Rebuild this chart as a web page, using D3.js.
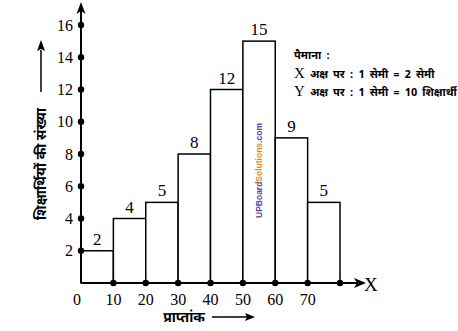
<!DOCTYPE html>
<html><head><meta charset="utf-8">
<script src="https://cdn.jsdelivr.net/npm/d3@7"></script>
<style>
html,body{margin:0;padding:0;background:#fff;}
svg{display:block;}
</style></head>
<body>
<script>
const binStarts = [0,10,20,30,40,50,60,70];
const binWidth = 10;
const counts = [2,4,5,8,12,15,9,5];
const xTickLabels = [0,10,20,30,40,50,60,70];
const xDotTicks = [10,20,30,40,50,60,70,80];
const yTicks = [2,4,6,8,10,12,14,16];
const yTitle = "शिक्षार्थियों की संख्या";
const xTitle = "प्राप्तांक";
const scaleLines = ["पैमाना :", "X अक्ष पर : 1 सेमी = 2 सेमी", "Y अक्ष पर : 1 सेमी = 10 शिक्षार्थी"];

const W=458,H=331;
const svg=d3.select("body").append("svg").attr("width",W).attr("height",H);
const x=d3.scaleLinear().domain([0,80]).range([81,340]);
const y=d3.scaleLinear().domain([0,16]).range([283,25]);
const serif="'Liberation Serif','Times New Roman',serif";
const deva="'Noto Sans Devanagari','Lohit Devanagari','Noto Sans',sans-serif";

// bars
svg.selectAll("rect.bar").data(binStarts).enter().append("rect")
  .attr("x",d=>x(d)).attr("width",d=>x(d+binWidth)-x(d))
  .attr("y",(d,i)=>y(counts[i])).attr("height",(d,i)=>y(0)-y(counts[i]))
  .attr("fill","#fff").attr("stroke","#000").attr("stroke-width",1.5);

// value labels
svg.selectAll("text.val").data(binStarts).enter().append("text")
  .attr("x",d=>x(d+binWidth/2)).attr("y",(d,i)=>y(counts[i])-6)
  .attr("text-anchor","middle").attr("font-family",serif).attr("font-size",17)
  .text((d,i)=>counts[i]);

// axes lines
const x0=x(0), y0=y(0);
svg.append("line").attr("x1",x0).attr("y1",y0).attr("x2",358).attr("y2",y0).attr("stroke","#000").attr("stroke-width",1.8);
svg.append("path").attr("d",`M366,${y0} L354,${y0-5} L357,${y0} L354,${y0+5} Z`).attr("fill","#000");
svg.append("line").attr("x1",x0).attr("y1",y0).attr("x2",x0).attr("y2",8).attr("stroke","#000").attr("stroke-width",2);
svg.append("path").attr("d",`M${x0},2 L${x0-4.5},14 L${x0},11 L${x0+4.5},14 Z`).attr("fill","#000");

// dots
svg.selectAll("circle.xd").data(xDotTicks).enter().append("circle")
  .attr("cx",d=>x(d)).attr("cy",y0).attr("r",3.2).attr("fill","#000");
svg.selectAll("circle.yd").data(yTicks).enter().append("circle")
  .attr("cx",x0).attr("cy",d=>y(d)).attr("r",3.2).attr("fill","#000");

// tick labels
svg.selectAll("text.xt").data(xTickLabels).enter().append("text")
  .attr("x",d=>d===0?x(d)-4:x(d)).attr("y",305).attr("text-anchor","middle")
  .attr("font-family",serif).attr("font-size",16).text(d=>d);
svg.selectAll("text.yt").data(yTicks).enter().append("text")
  .attr("x",73).attr("y",d=>y(d)+5.5).attr("text-anchor","end")
  .attr("font-family",serif).attr("font-size",16).text(d=>d);

// X label
svg.append("text").attr("x",364).attr("y",291).attr("font-family",serif).attr("font-size",19).text("X");

// x title
svg.append("text").attr("x",184).attr("y",322).attr("text-anchor","middle")
  .attr("font-family",deva).attr("font-size",14).attr("font-weight","bold").text(xTitle);
svg.append("line").attr("x1",212).attr("y1",317).attr("x2",248).attr("y2",317).attr("stroke","#000").attr("stroke-width",1.5);
svg.append("path").attr("d","M255,317 L245,313 L247,317 L245,321 Z").attr("fill","#000");

// y title
svg.append("text").attr("transform","translate(46,164) rotate(-90)").attr("text-anchor","middle")
  .attr("font-family",deva).attr("font-size",14).attr("font-weight","bold").text(yTitle);
svg.append("line").attr("x1",41).attr("y1",92).attr("x2",41).attr("y2",50).attr("stroke","#000").attr("stroke-width",1.5);
svg.append("path").attr("d","M41,40 L37,51 L41,49 L45,51 Z").attr("fill","#000");

// scale legend
scaleLines.forEach((t,i)=>{
  const tx=svg.append("text").attr("x",294).attr("y",59+i*18.5)
    .attr("font-family",deva).attr("font-size",11).attr("font-weight","bold")
    .attr("word-spacing",2.2);
  if(i>0){
    tx.append("tspan").attr("font-family",serif).attr("font-size",15).attr("font-weight","normal").text(t[0]);
    tx.append("tspan").text(t.slice(1));
  } else tx.text(t);
});

// watermark
const wm=svg.append("text").attr("transform","translate(262,218) rotate(-90)")
  .attr("font-family","'Liberation Sans',Arial,sans-serif").attr("font-size",8.5).attr("font-weight","bold");
wm.append("tspan").attr("fill","#5b3fa0").text("UPBoard");
wm.append("tspan").attr("fill","#e08a1e").text("Solutions");
wm.append("tspan").attr("fill","#5b3fa0").text(".com");
</script>
</body></html>
